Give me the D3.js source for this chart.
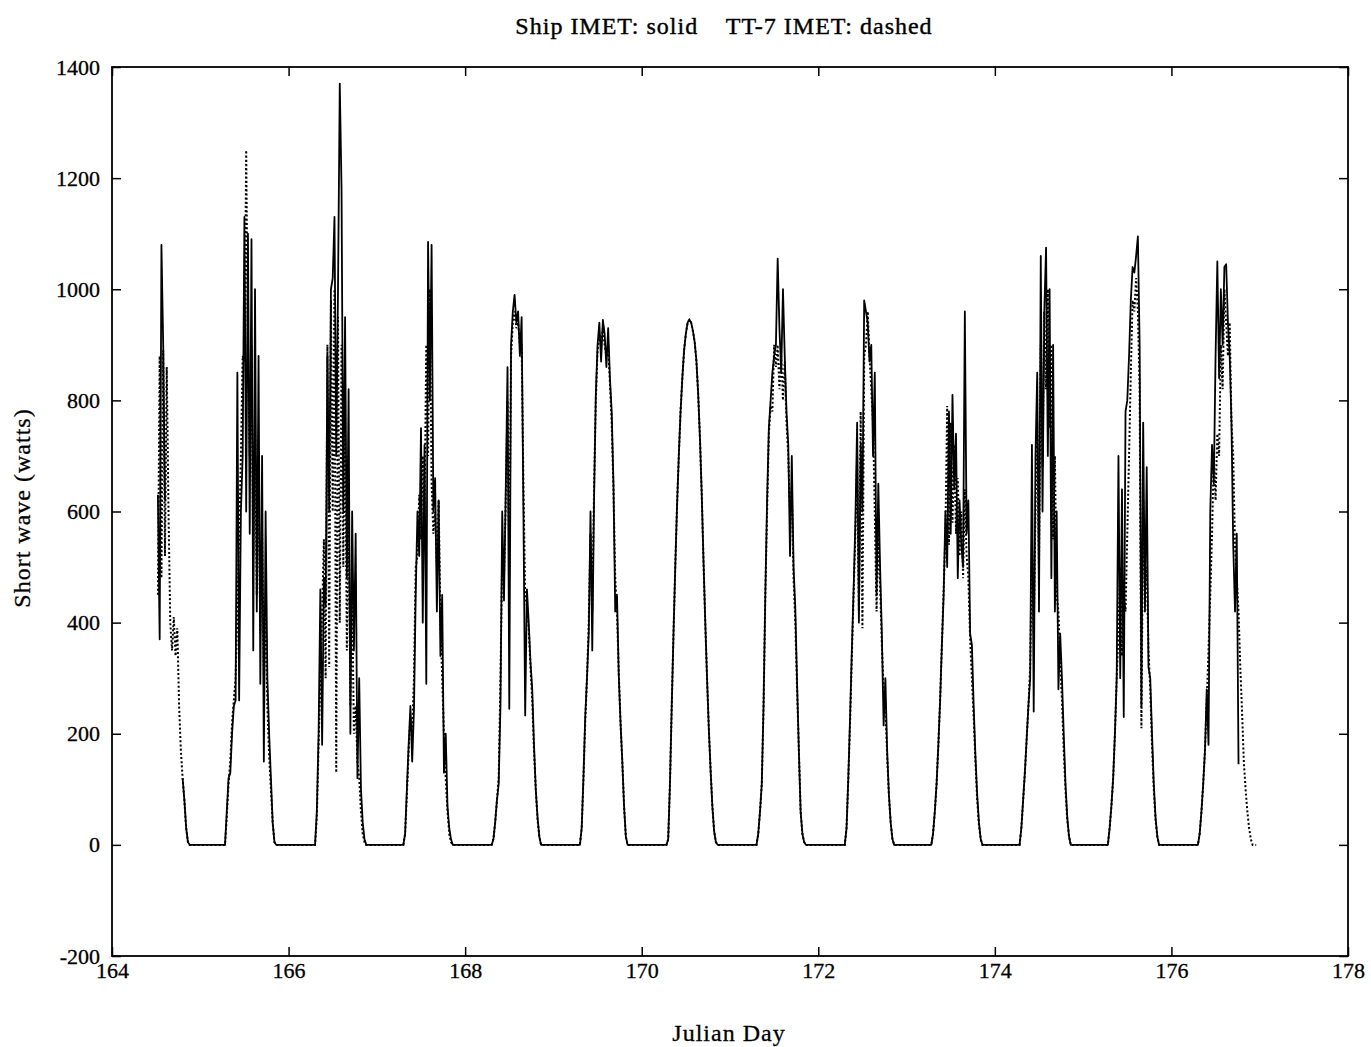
<!DOCTYPE html>
<html>
<head>
<meta charset="utf-8">
<script src="https://cdn.jsdelivr.net/npm/d3@7"></script>
<style>
  body { margin: 0; background: #fff; }
  text { font-family: "Liberation Serif", "Times New Roman", serif; fill: #000; }
</style>
</head>
<body>
<div id="chart"></div>
<script>
// tick labels
const xTicks = [164, 166, 168, 170, 172, 174, 176, 178];
const yTicks = [-200, 0, 200, 400, 600, 800, 1000, 1200, 1400];

// one list of samples per Julian day, first sample at day + 0.26, every 0.02 day
const days = [164, 165, 166, 167, 168, 169, 170, 171, 172, 173, 174, 175, 176];
const firstSample = 0.26;
const sampleStep = 0.02;

// Ship IMET short wave (watts), solid line
const shipWatts = [
  [null, null, null, null, null, null, null, null, null, null, null, null, null, 630, 370, 1080, 900, 620, null, null, null, null, null, null, null, null, null, 120, 80, 30, 5, 0, 0],
  [0, 0, 60, 120, 130, 200, 250, 260, 850, 260, 600, 700, 1130, 600, 1100, 560, 1090, 350, 1000, 420, 880, 290, 700, 150, 600, 300, 200, 120, 40, 5, 0, 0, 0],
  [0, 0, 0, 60, 200, 460, 180, 480, 430, 880, 600, 1000, 1020, 1130, 700, 1000, 1370, 1180, 600, 950, 480, 820, 200, 600, 350, 560, 120, 300, 100, 40, 10, 0, 0],
  [0, 0, 0, 20, 100, 180, 250, 150, 240, 450, 600, 520, 750, 400, 720, 290, 1085, 800, 1080, 600, 660, 420, 620, 340, 450, 130, 200, 70, 30, 10, 0, 0, 0],
  [0, 0, 0, 10, 40, 80, 110, 250, 600, 440, 640, 860, 245, 900, 960, 990, 940, 960, 880, 950, 600, 233, 460, 400, 330, 280, 180, 100, 50, 15, 0, 0, 0],
  [0, 0, 0, 30, 120, 230, 300, 380, 600, 350, 620, 810, 900, 940, 870, 945, 920, 860, 930, 840, 780, 650, 420, 450, 305, 220, 150, 70, 15, 0, 0, 0, 0],
  [0, 0, 10, 110, 250, 380, 500, 610, 700, 780, 840, 890, 920, 940, 945, 940, 925, 905, 870, 810, 730, 630, 510, 400, 300, 210, 135, 70, 25, 5, 0, 0, 0],
  [0, 0, 0, 20, 60, 110, 250, 450, 620, 750, 800, 850, 880, 900, 1055, 930, 850, 1000, 880, 780, 720, 520, 700, 500, 425, 290, 170, 60, 20, 5, 0, 0, 0],
  [0, 0, 0, 30, 120, 230, 350, 460, 580, 760, 400, 720, 600, 980, 960, 940, 870, 900, 700, 850, 450, 650, 500, 380, 215, 300, 170, 90, 40, 10, 0, 0, 0],
  [0, 0, 20, 60, 110, 180, 260, 360, 450, 600, 500, 780, 560, 810, 640, 740, 480, 620, 540, 500, 960, 560, 620, 380, 360, 250, 160, 90, 40, 10, 0, 0, 0],
  [0, 0, 30, 80, 130, 190, 250, 300, 720, 240, 700, 850, 420, 1060, 600, 960, 1075, 700, 1000, 480, 900, 420, 600, 280, 380, 300, 200, 110, 50, 15, 0, 0, 0],
  [0, 0, 30, 70, 120, 200, 300, 700, 300, 640, 230, 780, 800, 880, 980, 1040, 1030, 1060, 1095, 900, 250, 760, 420, 680, 320, 300, 200, 110, 50, 15, 0, 0, 0],
  [0, 0, 0, 20, 60, 110, 170, 280, 180, 600, 720, 650, 880, 1050, 840, 1000, 900, 1040, 1045, 940, 880, 760, 540, 420, 560, 145]
];

// TT-7 IMET short wave (watts), dashed line
const tt7Watts = [
  [null, null, null, null, null, null, null, null, null, null, null, null, null, 450, 880, 480, 890, 520, 860, 600, 400, 350, 410, 340, 390, 250, 170, 120, 80, 30, 5, 0, 0],
  [0, 0, 50, 110, 150, 220, 260, 300, 420, 560, 700, 880, 870, 1250, 880, 700, 900, 520, 760, 450, 650, 380, 560, 300, 420, 250, 160, 100, 40, 5, 0, 0, 0],
  [0, 0, 0, 50, 180, 300, 420, 550, 300, 900, 320, 980, 600, 1000, 130, 950, 400, 900, 500, 800, 350, 600, 250, 450, 200, 250, 150, 120, 60, 20, 5, 0, 0],
  [0, 0, 0, 20, 90, 170, 230, 200, 300, 500, 520, 630, 550, 700, 600, 900, 700, 1000, 650, 560, 600, 500, 620, 400, 300, 200, 120, 60, 20, 5, 0, 0, 0],
  [0, 0, 0, 10, 40, 80, 120, 300, 520, 480, 620, 800, 500, 880, 940, 960, 930, 940, 900, 900, 650, 450, 430, 390, 320, 260, 170, 100, 45, 15, 0, 0, 0],
  [0, 0, 0, 30, 120, 220, 300, 400, 560, 420, 640, 800, 890, 920, 900, 930, 900, 880, 900, 830, 760, 640, 480, 420, 310, 220, 150, 70, 15, 0, 0, 0, 0],
  [0, 0, 10, 110, 250, 380, 500, 610, 700, 780, 840, 890, 920, 940, 945, 940, 925, 905, 870, 810, 730, 630, 510, 400, 300, 210, 135, 70, 25, 5, 0, 0, 0],
  [0, 0, 0, 20, 60, 110, 250, 450, 600, 740, 790, 780, 900, 860, 900, 820, 880, 800, 870, 760, 700, 600, 640, 480, 400, 280, 170, 60, 20, 5, 0, 0, 0],
  [0, 0, 0, 30, 120, 220, 340, 450, 560, 700, 420, 780, 390, 880, 900, 960, 880, 820, 760, 600, 420, 560, 470, 360, 280, 250, 160, 90, 40, 10, 0, 0, 0],
  [0, 0, 20, 60, 110, 180, 260, 360, 460, 560, 790, 540, 760, 580, 720, 560, 660, 520, 600, 480, 640, 520, 480, 370, 300, 230, 150, 80, 35, 10, 0, 0, 0],
  [0, 0, 30, 80, 130, 190, 250, 320, 540, 380, 600, 760, 500, 900, 680, 960, 820, 1000, 750, 900, 550, 700, 450, 420, 330, 260, 170, 100, 45, 15, 0, 0, 0],
  [0, 0, 30, 70, 120, 200, 300, 380, 500, 340, 450, 420, 560, 700, 850, 980, 960, 1020, 960, 820, 210, 620, 460, 500, 350, 280, 180, 100, 45, 15, 0, 0, 0],
  [0, 0, 0, 20, 60, 110, 170, 260, 350, 450, 560, 700, 620, 740, 700, 900, 820, 1000, 940, 880, 940, 760, 700, 540, 480, 420, 320, 240, 150, 100, 60, 30, 10, 0, 0, 0]
];

const margin = { top: 67, right: 23, bottom: 91, left: 112 },
    width = 1371 - margin.left - margin.right,
    height = 1047 - margin.top - margin.bottom;

const x = d3.scaleLinear().domain([164, 178]).range([0, width]);
const y = d3.scaleLinear().domain([-200, 1400]).range([height, 0]);

const svg = d3.select("#chart").append("svg")
    .attr("width", width + margin.left + margin.right)
    .attr("height", height + margin.top + margin.bottom)
    .append("g")
    .attr("transform", "translate(" + margin.left + "," + margin.top + ")");

// turn the per-day lists into [day, watts] points
function toPoints(series) {
    let pts = [];
    series.forEach(function(vals, k) {
        vals.forEach(function(v, i) {
            pts.push([days[k] + firstSample + i * sampleStep, v]);
        });
    });
    return pts;
}

const line = d3.line()
    .defined(function(d) { return d[1] != null; })
    .x(function(d) { return x(d[0]); })
    .y(function(d) { return y(d[1]); });

svg.append("path")
    .datum(toPoints(shipWatts))
    .attr("fill", "none")
    .attr("stroke", "#000")
    .attr("stroke-width", 1.8)
    .attr("stroke-linejoin", "round")
    .attr("d", line);

svg.append("path")
    .datum(toPoints(tt7Watts))
    .attr("fill", "none")
    .attr("stroke", "#000")
    .attr("stroke-width", 2)
    .attr("stroke-dasharray", "2,2.2")
    .attr("d", line);

// axes, ticks pointing inward on all four sides
const tick = 9;
svg.append("g")
    .attr("transform", "translate(0," + height + ")")
    .call(d3.axisBottom(x).tickValues(xTicks).tickSize(-tick).tickPadding(6).tickFormat(function(d) { return String(d); }));
svg.append("g")
    .call(d3.axisTop(x).tickValues(xTicks).tickSize(-tick).tickFormat(""));
svg.append("g")
    .call(d3.axisLeft(y).tickValues(yTicks).tickSize(-tick).tickPadding(12).tickFormat(function(d) { return String(d); }));
svg.append("g")
    .attr("transform", "translate(" + width + ",0)")
    .call(d3.axisRight(y).tickValues(yTicks).tickSize(-tick).tickFormat(""));

svg.selectAll(".domain").remove();
svg.selectAll(".tick line").attr("stroke", "#000").attr("stroke-width", 1.5);
svg.selectAll(".tick text")
    .style("font-family", "'Liberation Serif', serif")
    .style("font-size", "22px")
    .attr("fill", "#000")
    .attr("stroke", "#000")
    .attr("stroke-width", 0.3);

svg.append("rect")
    .attr("width", width)
    .attr("height", height)
    .attr("fill", "none")
    .attr("stroke", "#000")
    .attr("stroke-width", 1.8);

// title
svg.append("text")
    .attr("x", 612)
    .attr("y", -33)
    .style("text-anchor", "middle")
    .style("font-size", "24px")
    .style("letter-spacing", "1px")
    .attr("stroke", "#000")
    .attr("stroke-width", 0.4)
    .attr("xml:space", "preserve")
    .text("Ship IMET: solid    TT-7 IMET: dashed");

// x label
svg.append("text")
    .attr("x", 617)
    .attr("y", height + 85)
    .style("text-anchor", "middle")
    .style("font-size", "24px")
    .style("letter-spacing", "1px")
    .attr("stroke", "#000")
    .attr("stroke-width", 0.3)
    .text("Julian Day");

// y label
svg.append("text")
    .attr("transform", "rotate(-90)")
    .attr("x", -441)
    .attr("y", 0 - margin.left + 30)
    .style("text-anchor", "middle")
    .style("font-size", "24px")
    .style("letter-spacing", "1px")
    .attr("stroke", "#000")
    .attr("stroke-width", 0.3)
    .text("Short wave (watts)");
</script>
</body>
</html>
